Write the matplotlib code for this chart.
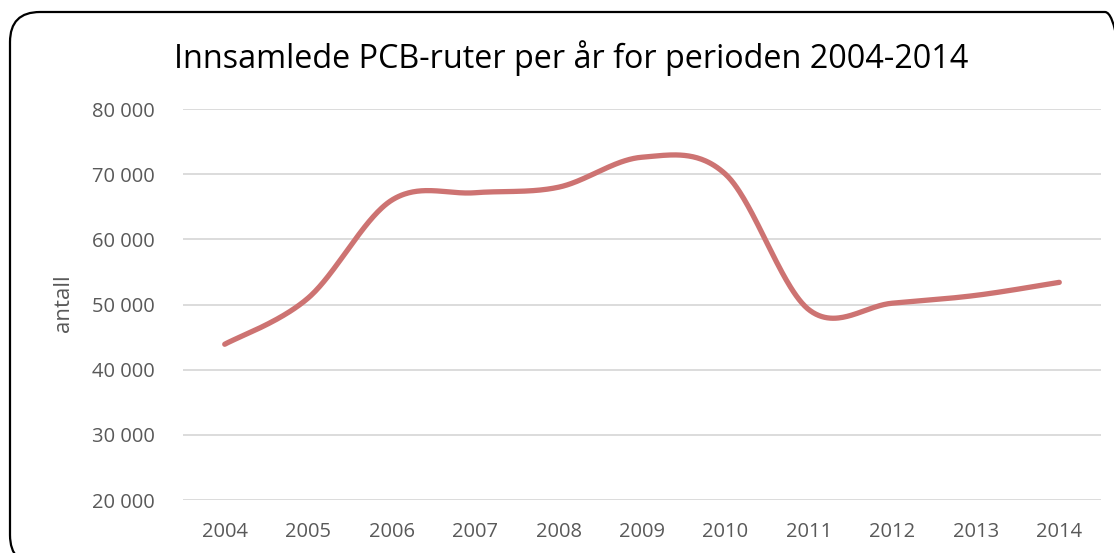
import numpy as np
import matplotlib
matplotlib.use("Agg")
import matplotlib.pyplot as plt
from matplotlib.patches import FancyBboxPatch
from matplotlib.transforms import IdentityTransform

years = [2004, 2005, 2006, 2007, 2008, 2009, 2010, 2011, 2012, 2013, 2014]
values = [43900, 51000, 66000, 67150, 68000, 72600, 70000, 49200, 50200, 51400, 53400]
yticks = [20000, 30000, 40000, 50000, 60000, 70000, 80000]
ytick_labels = ["20 000", "30 000", "40 000", "50 000", "60 000", "70 000", "80 000"]
title = "Innsamlede PCB-ruter per år for perioden 2004-2014"
ylabel = "antall"

W, H = 1114, 553
fig = plt.figure(figsize=(W / 100, H / 100), dpi=100)
ax = fig.add_axes([183 / W, 1 - 500 / H, (1101 - 183) / W, (500 - 109) / H])


def smooth(xs, ys, n=60):
    x = np.asarray(xs, float)
    y = np.asarray(ys, float)
    px = np.concatenate([[x[0]], x, [x[-1]]])
    py = np.concatenate([[y[0]], y, [y[-1]]])
    outx, outy = [], []
    for i in range(1, len(px) - 2):
        p0 = np.array([px[i], py[i]])
        p3 = np.array([px[i + 1], py[i + 1]])
        c1 = p0 + (np.array([px[i + 1], py[i + 1]]) - np.array([px[i - 1], py[i - 1]])) / 6
        c2 = p3 - (np.array([px[i + 2], py[i + 2]]) - np.array([px[i], py[i]])) / 6
        t = np.linspace(0, 1, n)[:, None]
        b = (1 - t) ** 3 * p0 + 3 * (1 - t) ** 2 * t * c1 + 3 * (1 - t) * t ** 2 * c2 + t ** 3 * p3
        outx.extend(b[:, 0])
        outy.extend(b[:, 1])
    return np.array(outx), np.array(outy)


sx, sy = smooth(years, values)
ax.plot(sx, sy, color="#CD7372", lw=3.8, solid_capstyle="round", zorder=3)

ax.set_xlim(years[0] - 0.5, years[-1] + 0.5)
ax.set_ylim(yticks[0], yticks[-1])
ax.set_yticks(yticks)
ax.set_yticklabels(ytick_labels)
ax.set_xticks(years)
ax.set_xticklabels([str(y) for y in years])
ax.grid(axis="y", color="#D9D9D9", lw=1.3)
ax.set_axisbelow(True)
for s in ax.spines.values():
    s.set_visible(False)
ax.tick_params(length=0, labelcolor="#595959", labelsize=14.5)
ax.tick_params(axis="y", pad=20)
ax.tick_params(axis="x", pad=16)
for lab in ax.get_xticklabels() + ax.get_yticklabels():
    lab.set_fontfamily("Open Sans")

fig.text(63 / W, 1 - 303 / H, ylabel, rotation=90, ha="center", va="center",
         color="#595959", fontsize=16, fontfamily="Open Sans")
fig.text(571 / W, 1 - 68 / H, title, ha="center", va="baseline",
         color="#000000", fontsize=23.3, fontfamily="Open Sans")

box = FancyBboxPatch((10, -12), 1135 - 10, 553 - 12 + 12,
                     boxstyle="round,pad=0,rounding_size=30",
                     transform=IdentityTransform(), fill=False, ec="black", lw=1.6)
fig.patches.append(box)

fig.savefig("out.png", dpi=100)
